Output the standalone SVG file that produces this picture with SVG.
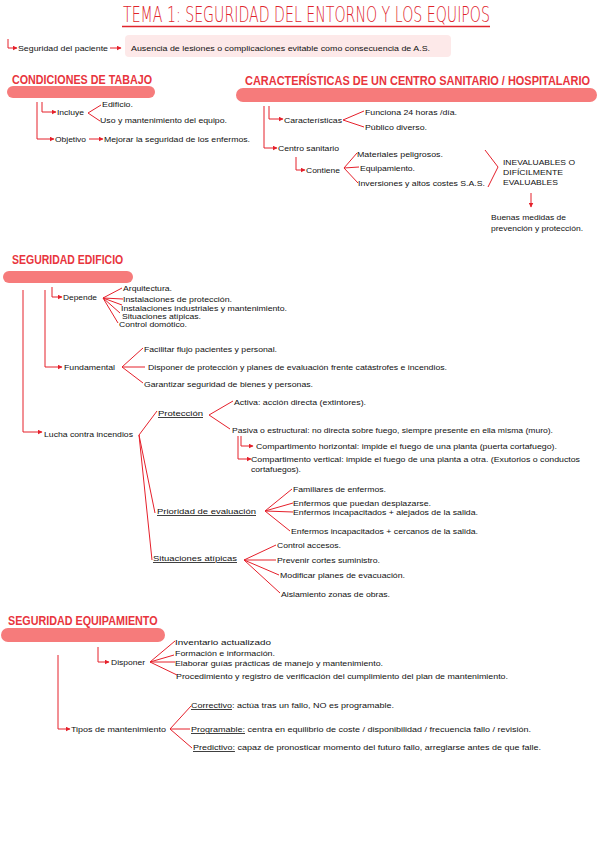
<svg xmlns="http://www.w3.org/2000/svg" width="599" height="848" viewBox="0 0 599 848">
<style>
.t{font-family:"Liberation Sans",Arial,sans-serif;font-size:8px;fill:#111}
.h{font-family:"Liberation Sans",Arial,sans-serif;font-size:12.5px;font-weight:bold;fill:#e8353d}
.pill{fill:#f67b7b}
.c{fill:none;stroke:#e5202b;stroke-width:1}
.a{marker-end:url(#ah)}
.u{text-decoration:underline}
</style>
<defs>
<marker id="ah" markerWidth="5" markerHeight="5" refX="4.5" refY="2.5" orient="auto" markerUnits="userSpaceOnUse"><path d="M0,0 L5,2.5 L0,5 z" fill="#e5202b"/></marker>
</defs>
<rect width="599" height="848" fill="#fff"/>

<g id="title">
<g transform="translate(123,22) scale(0.66,1)">
<text x="0" y="0" textLength="556" lengthAdjust="spacingAndGlyphs" style="font-family:'DejaVu Sans',sans-serif;font-size:20.5px;font-weight:200;fill:#e0242c">TEMA 1: SEGURIDAD DEL ENTORNO Y LOS EQUIPOS</text>
</g>
<line x1="122" y1="26.5" x2="490" y2="26.5" stroke="#e0242c" stroke-width="1.6"/>
</g>

<g id="seguridad-paciente">
<text class="t" x="18" y="51" textLength="90" lengthAdjust="spacingAndGlyphs">Seguridad del paciente</text>
</g>
<g id="ausencia">
<rect x="125" y="35" width="326" height="22" rx="4" fill="#fde9e9"/>
<text class="t" x="131" y="51" textLength="299" lengthAdjust="spacingAndGlyphs">Ausencia de lesiones o complicaciones evitable como consecuencia de A.S.</text>
</g>

<g id="condiciones">
<rect class="pill" x="7" y="86" width="148" height="12" rx="6"/>
<g transform="translate(12,84) scale(0.8,1)">
<text class="h" x="0" y="0" textLength="175" lengthAdjust="spacingAndGlyphs">CONDICIONES DE TABAJO</text>
</g>
</g>
<g id="incluye"><text class="t" x="57" y="115" textLength="27" lengthAdjust="spacingAndGlyphs">Incluye</text></g>
<g id="edificio"><text class="t" x="102" y="107" textLength="31" lengthAdjust="spacingAndGlyphs">Edificio.</text></g>
<g id="uso"><text class="t" x="100" y="123" textLength="127" lengthAdjust="spacingAndGlyphs">Uso y mantenimiento del equipo.</text></g>
<g id="objetivo"><text class="t" x="55" y="142" textLength="31" lengthAdjust="spacingAndGlyphs">Objetivo</text></g>
<g id="mejorar"><text class="t" x="104" y="142" textLength="146" lengthAdjust="spacingAndGlyphs">Mejorar la seguridad de los enfermos.</text></g>

<g id="caracteristicas-centro">
<rect class="pill" x="236" y="88" width="361" height="14" rx="7"/>
<g transform="translate(245,85) scale(0.77,1)">
<text class="h" x="0" y="0" textLength="448" lengthAdjust="spacingAndGlyphs">CARACTERÍSTICAS DE UN CENTRO SANITARIO / HOSPITALARIO</text>
</g>
</g>
<g id="caracteristicas"><text class="t" x="284" y="123" textLength="58" lengthAdjust="spacingAndGlyphs">Características</text></g>
<g id="funciona"><text class="t" x="365" y="115" textLength="92" lengthAdjust="spacingAndGlyphs">Funciona 24 horas /día.</text></g>
<g id="publico"><text class="t" x="365" y="130" textLength="62" lengthAdjust="spacingAndGlyphs">Público diverso.</text></g>
<g id="centro-sanitario"><text class="t" x="278" y="151" textLength="61" lengthAdjust="spacingAndGlyphs">Centro sanitario</text></g>
<g id="contiene"><text class="t" x="306" y="173" textLength="34" lengthAdjust="spacingAndGlyphs">Contiene</text></g>
<g id="materiales"><text class="t" x="357" y="157" textLength="86" lengthAdjust="spacingAndGlyphs">Materiales peligrosos.</text></g>
<g id="equipamiento"><text class="t" x="360" y="171" textLength="55" lengthAdjust="spacingAndGlyphs">Equipamiento.</text></g>
<g id="inversiones"><text class="t" x="358" y="186" textLength="127" lengthAdjust="spacingAndGlyphs">Inversiones y altos costes S.A.S.</text></g>
<g id="inevaluables">
<text class="t" x="503" y="165" textLength="72" lengthAdjust="spacingAndGlyphs">INEVALUABLES O</text>
<text class="t" x="503" y="175" textLength="60" lengthAdjust="spacingAndGlyphs">DIFÍCILMENTE</text>
<text class="t" x="503" y="185" textLength="55" lengthAdjust="spacingAndGlyphs">EVALUABLES</text>
</g>
<g id="buenas-medidas">
<text class="t" x="491" y="220" textLength="75" lengthAdjust="spacingAndGlyphs">Buenas medidas de</text>
<text class="t" x="491" y="231" textLength="92" lengthAdjust="spacingAndGlyphs">prevención y protección.</text>
</g>

<g id="seguridad-edificio">
<rect class="pill" x="3" y="271" width="130" height="12" rx="6"/>
<g transform="translate(12,264) scale(0.8,1)">
<text class="h" x="0" y="0" textLength="139" lengthAdjust="spacingAndGlyphs">SEGURIDAD EDIFICIO</text>
</g>
</g>
<g id="depende"><text class="t" x="63" y="300" textLength="34" lengthAdjust="spacingAndGlyphs">Depende</text></g>
<g id="arquitectura"><text class="t" x="123" y="291" textLength="49" lengthAdjust="spacingAndGlyphs">Arquitectura.</text></g>
<g id="inst-proteccion"><text class="t" x="123" y="302" textLength="109" lengthAdjust="spacingAndGlyphs">Instalaciones de protección.</text></g>
<g id="inst-industriales"><text class="t" x="121" y="311" textLength="166" lengthAdjust="spacingAndGlyphs">Instalaciones industriales y mantenimiento.</text></g>
<g id="situaciones-dep"><text class="t" x="122" y="319" textLength="79" lengthAdjust="spacingAndGlyphs">Situaciones atípicas.</text></g>
<g id="control-domotico"><text class="t" x="119" y="327" textLength="68" lengthAdjust="spacingAndGlyphs">Control domótico.</text></g>
<g id="fundamental"><text class="t" x="64" y="370" textLength="51" lengthAdjust="spacingAndGlyphs">Fundamental</text></g>
<g id="facilitar"><text class="t" x="144" y="352" textLength="133" lengthAdjust="spacingAndGlyphs">Facilitar flujo pacientes y personal.</text></g>
<g id="disponer-proteccion"><text class="t" x="148" y="370" textLength="299" lengthAdjust="spacingAndGlyphs">Disponer de protección y planes de evaluación frente catástrofes e incendios.</text></g>
<g id="garantizar"><text class="t" x="144" y="387" textLength="169" lengthAdjust="spacingAndGlyphs">Garantizar seguridad de bienes y personas.</text></g>

<g id="lucha"><text class="t" x="44" y="437" textLength="89" lengthAdjust="spacingAndGlyphs">Lucha contra incendios</text></g>
<g id="proteccion"><text class="t u" x="158" y="416" textLength="45" lengthAdjust="spacingAndGlyphs">Protección</text></g>
<g id="activa"><text class="t" x="234" y="405" textLength="132" lengthAdjust="spacingAndGlyphs">Activa: acción directa (extintores).</text></g>
<g id="pasiva"><text class="t" x="232" y="433" textLength="321" lengthAdjust="spacingAndGlyphs">Pasiva o estructural: no directa sobre fuego, siempre presente en ella misma (muro).</text></g>
<g id="comp-horizontal"><text class="t" x="256" y="449" textLength="301" lengthAdjust="spacingAndGlyphs">Compartimento horizontal: impide el fuego de una planta (puerta cortafuego).</text></g>
<g id="comp-vertical">
<text class="t" x="251" y="462" textLength="329" lengthAdjust="spacingAndGlyphs">Compartimento vertical: impide el fuego de una planta a otra. (Exutorios o conductos</text>
<text class="t" x="251" y="472" textLength="50" lengthAdjust="spacingAndGlyphs">cortafuegos).</text>
</g>
<g id="prioridad"><text class="t u" x="157" y="514" textLength="99" lengthAdjust="spacingAndGlyphs">Prioridad de evaluación</text></g>
<g id="familiares"><text class="t" x="293" y="492" textLength="93" lengthAdjust="spacingAndGlyphs">Familiares de enfermos.</text></g>
<g id="desplazarse"><text class="t" x="293" y="506" textLength="138" lengthAdjust="spacingAndGlyphs">Enfermos que puedan desplazarse.</text></g>
<g id="alejados"><text class="t" x="293" y="515" textLength="185" lengthAdjust="spacingAndGlyphs">Enfermos incapacitados + alejados de la salida.</text></g>
<g id="cercanos"><text class="t" x="291" y="534" textLength="187" lengthAdjust="spacingAndGlyphs">Enfermos incapacitados + cercanos de la salida.</text></g>
<g id="situaciones"><text class="t u" x="153" y="561" textLength="84" lengthAdjust="spacingAndGlyphs">Situaciones atípicas</text></g>
<g id="control-accesos"><text class="t" x="277" y="548" textLength="64" lengthAdjust="spacingAndGlyphs">Control accesos.</text></g>
<g id="prevenir"><text class="t" x="277" y="563" textLength="103" lengthAdjust="spacingAndGlyphs">Prevenir cortes suministro.</text></g>
<g id="modificar"><text class="t" x="280" y="578" textLength="125" lengthAdjust="spacingAndGlyphs">Modificar planes de evacuación.</text></g>
<g id="aislamiento"><text class="t" x="281" y="597" textLength="109" lengthAdjust="spacingAndGlyphs">Aislamiento zonas de obras.</text></g>

<g id="seguridad-equipamiento">
<rect class="pill" x="1" y="628" width="164" height="14" rx="7"/>
<g transform="translate(8,625) scale(0.8,1)">
<text class="h" x="0" y="0" textLength="187" lengthAdjust="spacingAndGlyphs">SEGURIDAD EQUIPAMIENTO</text>
</g>
</g>
<g id="disponer"><text class="t" x="111" y="665" textLength="34" lengthAdjust="spacingAndGlyphs">Disponer</text></g>
<g id="inventario"><text class="t" x="175" y="645" textLength="96" lengthAdjust="spacingAndGlyphs">Inventario actualizado</text></g>
<g id="formacion"><text class="t" x="175" y="656" textLength="100" lengthAdjust="spacingAndGlyphs">Formación e información.</text></g>
<g id="elaborar"><text class="t" x="175" y="666" textLength="208" lengthAdjust="spacingAndGlyphs">Elaborar guías prácticas de manejo y mantenimiento.</text></g>
<g id="procedimiento"><text class="t" x="176" y="679" textLength="332" lengthAdjust="spacingAndGlyphs">Procedimiento y registro de verificación del cumplimiento del plan de mantenimiento.</text></g>
<g id="tipos"><text class="t" x="71" y="732" textLength="95" lengthAdjust="spacingAndGlyphs">Tipos de mantenimiento</text></g>
<g id="correctivo"><text class="t" x="191" y="708" textLength="203" lengthAdjust="spacingAndGlyphs"><tspan class="u">Correctivo</tspan>: actúa tras un fallo, NO es programable.</text></g>
<g id="programable"><text class="t" x="191" y="732" textLength="340" lengthAdjust="spacingAndGlyphs"><tspan class="u">Programable:</tspan> centra en equilibrio de coste / disponibilidad / frecuencia fallo / revisión.</text></g>
<g id="predictivo"><text class="t" x="193" y="750" textLength="348" lengthAdjust="spacingAndGlyphs"><tspan class="u">Predictivo:</tspan> capaz de pronosticar momento del futuro fallo, arreglarse antes de que falle.</text></g>

<g id="connectors">
<path class="c a" d="M8,39 V48 H17"/>
<path class="c a" d="M110,48 H121"/>
<path class="c a" d="M37,102 V139 H54"/>
<path class="c a" d="M42,102 V112 H56"/>
<path class="c" d="M101,105 L88,113 L100,121"/>
<path class="c a" d="M89,139 H103"/>
<path class="c a" d="M264,106 V148 H277"/>
<path class="c a" d="M269,106 V119 H283"/>
<path class="c" d="M364,111 L343,120 L364,127"/>
<path class="c a" d="M296,157 V170 H305"/>
<path class="c" d="M357,153 L344,168 L359,167 M344,168 L358,183"/>
<path class="c" d="M485,150 L498,167 L488,187"/>
<path class="c a" d="M531,193 V207"/>
<path class="c a" d="M23,290 V432 H42"/>
<path class="c a" d="M45,290 V367 H62"/>
<path class="c a" d="M52,287 V297 H62"/>
<path class="c" d="M122,288 L103,298 L123,299 M103,298 L122,305 M103,298 L120,313 M103,298 L118,323"/>
<path class="c" d="M143,348 L122,367 L145,367 M122,367 L143,383"/>
<path class="c" d="M157,411 L139,435 L155,513 M139,435 L152,560"/>
<path class="c" d="M233,401 L209,415 L230,429"/>
<path class="c a" d="M238,436 V459 H251"/>
<path class="c a" d="M241,436 V446 H253"/>
<path class="c" d="M292,489 L265,511 L293,503 M265,511 L293,512 M265,511 L290,531"/>
<path class="c" d="M276,545 L244,560 L276,560 M244,560 L279,575 M244,560 L280,593"/>
<path class="c a" d="M58,655 V729 H70"/>
<path class="c a" d="M98,647 V662 H109"/>
<path class="c" d="M175,641 L150,662 L174,655 M150,662 L175,662 M150,662 L177,675"/>
<path class="c" d="M191,706 L170,729 L190,729 M170,729 L192,748"/>
</g>
</svg>
